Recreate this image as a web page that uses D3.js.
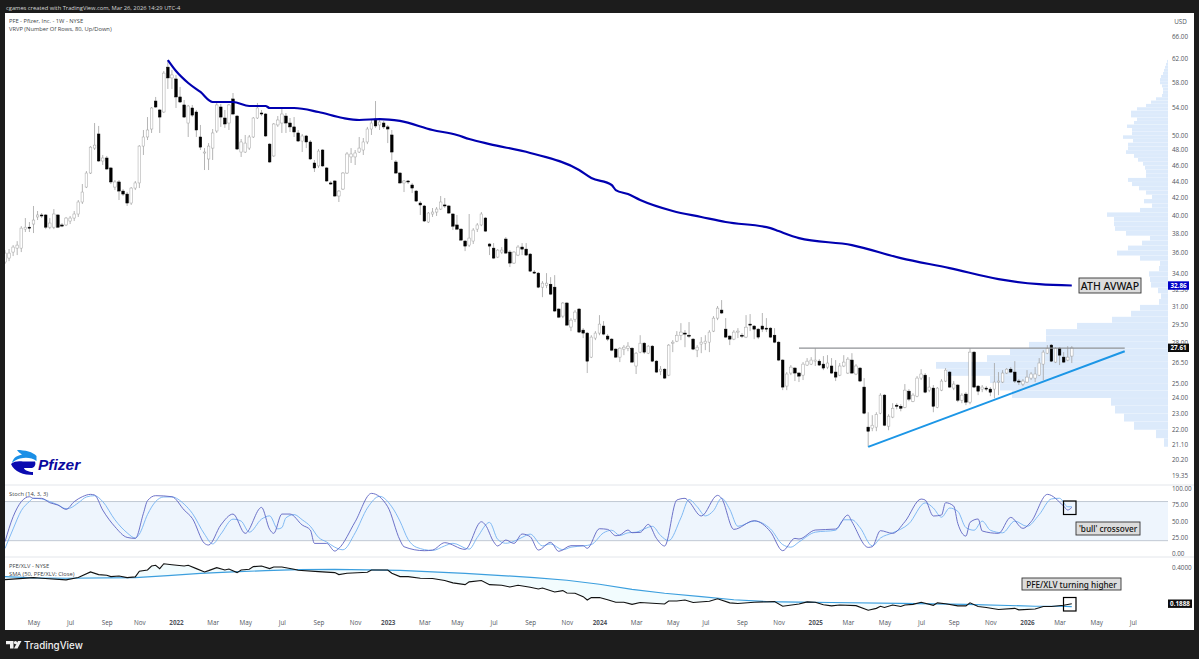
<!DOCTYPE html>
<html>
<head>
<meta charset="utf-8">
<title>PFE weekly</title>
<script src="https://cdn.jsdelivr.net/npm/d3@7"></script>
<style>
	html, body { margin: 0; padding: 0; background: #1c1c1c; }
	svg { display: block; }
	text { font-family: "Open Sans", "Noto Sans", sans-serif; }
	.axisText text { fill: #50545c; font-size: 6.3px; }
	.legend { fill: #3d3f46; font-size: 5.75px; }
	.note { fill: #111; font-family: "Noto Sans", sans-serif; font-weight: 500; text-anchor: middle; dominant-baseline: central; }
</style>
</head>
<body>
<script>
//weekly candles, first bar is week of Mar 15 2021, last is week of Mar 23 2026
var opens = [
	35.09,35.48,36.08,36.48,36.48,38.47,38.68,39.02,39.8,40.02,
	40.02,38.68,38.68,40.02,38.92,38.92,39.35,39.68,40.13,41.5,
	43.27,45.0,48.25,50.19,46.54,46.93,45.64,43.27,43.89,42.79,
	42.43,41.38,43.15,43.77,48.52,49.77,50.89,55.03,53.67,53.37,
	60.5,58.7,58.53,55.66,54.43,51.75,53.97,53.37,49.77,47.59,
	46.8,48.25,50.61,54.12,52.48,51.75,55.35,52.77,47.72,47.72,
	48.25,49.77,52.48,53.22,53.07,48.79,47.2,51.47,51.75,52.77,
	51.75,51.19,50.33,49.21,49.91,49.08,46.28,45.9,47.99,45.64,
	43.77,44.01,42.2,43.03,45.0,47.07,47.07,47.72,47.99,49.08,
	50.89,52.33,51.47,51.75,51.19,50.05,46.41,45.0,43.77,44.01,
	43.52,42.79,41.38,41.04,39.24,40.13,40.35,40.69,41.16,41.04,
	40.13,38.92,38.47,37.21,36.79,37.21,38.47,38.92,39.68,36.9,
	36.48,35.58,36.08,37.42,36.08,34.99,35.78,36.59,36.38,35.88,
	34.12,34.02,32.71,32.89,32.98,32.71,30.77,30.17,31.29,29.26,
	29.91,30.77,29.01,28.77,26.9,28.37,28.77,29.34,28.53,28.29,
	27.51,26.9,27.51,27.58,27.58,26.24,27.28,27.97,27.2,27.74,
	26.6,25.87,26.01,25.58,27.97,28.13,28.6,28.77,28.6,28.29,
	27.43,27.9,27.97,28.05,28.93,30.0,30.68,29.09,28.53,28.29,
	28.85,28.6,28.45,29.5,29.34,29.09,29.34,29.17,29.17,28.6,
	28.05,26.68,24.81,25.73,26.09,25.73,25.58,26.31,26.38,26.6,
	26.6,26.38,26.16,26.24,25.8,25.58,26.24,25.73,26.68,25.66,
	26.09,24.74,22.12,22.06,22.12,23,24.19,22.18,22.75,23.52,
	23.45,23.38,24.46,23.78,24.12,25.37,25.58,24.53,24.67,23.38,
	24.53,25.16,25.8,24.67,24.88,23.85,24.26,23.72,27.28,24.81,
	24.6,24.67,24.6,24.6,25.09,25.09,25.73,26.01,25.8,25.16,
	24.95,25.09,25.37,25.37,25.58,26.38,27.2,27.82,26.53,27.58,
	26.9,26.68,26.98
];
var highs = [
	36.28,36.38,36.79,37.2,38.79,39.68,39.24,41.04,40.47,40.24,
	40.13,39.68,40.69,40.13,39.13,39.8,39.91,40.47,41.73,43.64,
	45.25,48.52,51.75,51.33,47.33,47.2,45.77,44.13,44.13,43.03,
	42.67,43.27,44.01,48.65,50.75,52.62,54.12,55.66,53.82,59.84,
	61.71,60.02,59.19,57.24,55.19,54.43,54.43,53.67,51.47,48.25,
	48.93,50.89,54.73,54.58,53.67,54.58,56.28,52.91,49.49,50.05,
	50.05,52.62,54.73,53.67,53.22,48.93,51.75,52.77,53.97,53.22,
	52.48,52.62,50.75,50.19,50.05,49.35,46.67,48.12,48.12,45.77,
	44.01,44.13,42.91,45.13,47.72,48.25,47.99,49.77,49.63,51.19,
	52.19,55.03,52.48,52.05,51.47,50.75,46.67,45.13,44.13,44.13,
	43.77,42.91,41.61,41.16,40.35,40.81,40.92,42.2,41.97,41.16,
	40.24,40.02,38.58,37.31,40.13,38.58,39.13,40.35,39.8,37.0,
	37.0,36.38,36.59,37.63,36.28,36.18,36.79,37.0,37.0,35.98,
	34.31,34.12,33.27,34.02,33.64,33.83,30.85,31.38,31.38,30.0,
	30.68,30.85,29.17,28.85,28.6,28.93,30.25,29.75,28.69,28.37,
	27.58,27.66,27.82,28.05,27.66,27.28,28.6,28.05,27.82,27.82,
	26.68,26.24,26.09,27.9,28.21,28.93,29.58,29.01,29.67,28.37,
	27.82,28.45,28.6,29.01,30.17,31.03,31.55,30.0,28.6,29.01,
	29.17,28.77,30.25,30.34,29.42,29.17,30.43,30.0,29.25,29.17,
	28.13,26.75,25.8,26.31,26.16,25.8,26.53,26.83,26.9,27.58,
	26.75,26.98,27.05,26.83,26.68,26.46,27.05,26.9,27.2,26.38,
	26.16,25.37,23.06,22.87,23.06,24.32,24.26,22.93,23.65,23.65,
	23.58,24.95,24.6,24.32,25.51,26.01,25.73,25.44,24.88,24.74,
	25.3,26.09,25.87,25.16,24.95,24.32,24.39,27.58,27.35,24.88,
	24.88,24.81,24.74,26.46,25.8,25.94,26.09,26.16,26.6,25.3,
	25.3,25.94,25.8,26.16,26.83,27.43,27.82,27.9,27.66,27.66,
	27.28,27.74,27.74
];
var lows = [
	34.9,35.18,35.68,35.78,36.08,38.16,38.16,38.05,39.46,39.68,
	38.47,38.47,38.47,38.58,38.68,38.8,39.02,39.35,39.8,41.27,
	43.15,44.88,47.99,46.41,46.02,45.38,43.64,42.91,41.73,42.2,
	41.04,41.16,42.91,43.15,47.33,49.35,50.33,53.97,50.33,53.22,
	56.92,56.92,53.97,54.73,52.48,49.77,52.62,49.77,47.99,45.38,
	45.38,46.67,50.33,51.19,51.05,50.75,52.91,47.99,47.07,47.59,
	47.99,49.63,52.33,52.77,49.77,46.28,47.07,51.19,50.33,50.33,
	50.47,49.77,49.08,47.72,48.25,46.67,45.13,45.64,45.77,43.89,
	43.52,42.08,41.5,42.91,44.88,46.28,46.02,47.59,47.33,48.79,
	50.05,51.05,50.75,50.89,48.93,46.67,44.88,43.64,42.67,43.64,
	42.55,41.5,40.02,39.24,39.13,39.8,39.91,40.58,40.81,40.13,
	38.37,38.37,37.21,36.18,36.59,36.9,38.16,38.79,38.16,35.78,
	35.38,35.48,35.88,35.88,34.6,34.9,35.68,35.78,35.68,34.12,
	33.93,32.62,31.81,32.62,31.99,30.51,30.0,30.0,29.34,28.93,
	29.67,28.77,28.37,25.73,26.83,28.21,28.6,28.6,28.13,27.35,
	26.83,26.53,27.05,27.35,26.46,25.66,27.2,27.13,27.13,26.53,
	25.73,25.58,25.3,25.51,27.28,28.05,28.21,27.66,28.37,27.43,
	26.9,27.2,27.43,27.28,28.85,29.83,30.34,28.37,27.82,28.21,
	28.37,28.37,28.37,28.93,28.29,28.29,28.85,28.85,28.37,27.97,
	26.6,24.53,24.53,25.58,25.16,25.09,25.23,26.24,26.31,26.24,
	26.24,25.94,26.01,25.66,25.16,25.51,26.16,25.66,25.66,25.58,
	25.09,22.93,20.93,21.87,21.87,22.93,22.18,21.93,22.68,23.25,
	23.12,23.32,23.78,23.72,24.05,25.23,24.32,24.39,23.06,23.32,
	24.46,25.09,24.67,24.53,23.72,23.65,23.52,23.58,24.67,24.19,
	24.39,24.46,24.12,23.98,24.19,25.02,25.66,25.73,25.02,24.88,
	24.81,25.02,25.23,25.09,25.51,25.23,27.13,26.53,26.46,26.31,
	26.46,26.6,26.46
];
var closes = [
	35.98,35.98,36.59,36.79,38.58,38.68,38.58,39.46,40.02,39.91,
	38.68,39.13,40.13,38.68,38.8,39.68,39.68,40.13,41.5,42.67,
	45.0,48.38,48.65,46.54,46.93,45.51,43.89,43.89,42.79,42.43,
	41.38,43.15,43.77,48.52,49.77,50.75,53.97,54.12,52.62,59.5,
	58.7,59.19,55.66,54.88,52.62,54.27,52.91,50.75,48.38,47.72,
	48.52,50.33,54.43,52.62,51.61,54.43,53.07,48.12,49.08,48.93,
	49.77,52.48,53.97,53.07,49.91,46.41,51.61,52.19,53.07,51.75,
	51.19,50.47,49.21,49.91,49.08,46.8,45.64,47.85,45.9,44.01,
	43.64,42.2,42.79,45.0,47.46,47.46,47.59,48.25,49.08,50.89,
	51.75,51.33,51.9,51.19,50.89,47.72,45.0,43.77,44.01,43.89,
	43.15,41.61,41.16,39.35,40.24,40.35,40.69,41.5,41.04,40.24,
	38.79,38.47,37.31,36.69,37.52,38.37,38.92,40.13,38.26,36.69,
	35.48,36.28,36.28,35.98,34.99,36.08,36.59,36.38,35.78,34.21,
	34.02,32.71,33.08,33.08,32.08,30.6,30.08,31.29,29.42,29.83,
	30.51,28.85,28.77,26.6,28.45,28.77,29.5,28.69,28.29,27.43,
	26.9,27.58,27.66,27.74,26.53,27.2,27.97,27.28,27.74,26.6,
	25.8,26.01,25.37,27.82,28.05,28.6,28.85,28.69,28.53,27.51,
	27.66,28.05,28.13,28.85,30.0,30.85,30.43,28.45,28.29,28.85,
	28.93,28.53,29.25,29.42,29.09,28.45,29.09,29.09,28.45,28.05,
	26.68,24.74,25.66,26.16,25.73,25.51,26.38,26.6,26.68,26.68,
	26.31,26.09,26.46,25.73,25.44,26.24,26.53,26.75,25.73,26.24,
	25.16,23,21.87,22.24,22.93,24.19,22.24,22.81,23.32,23.45,
	23.32,24.53,23.92,24.19,25.37,25.66,24.39,24.74,23.45,24.67,
	25.16,25.94,24.74,24.95,23.85,24.19,23.72,27.28,24.74,24.46,
	24.74,24.6,24.39,25.09,25.16,25.73,26.01,25.8,25.16,25.09,
	25.16,25.44,25.66,25.66,26.46,27.28,27.58,26.6,27.58,27.05,
	26.53,26.9,27.61
];

//anchored vwap from the all time high. bar numbers count weeks from Jan 3 2022
var avwapBars = [-2,0,3,6,9,11,14,18,22,23,29,35,41,45,50,55,63,69,72,77,87,99,102,107,108,111,114,122,129,135,146,148,153,166,178,190,202,212,220];
var avwapValues = [61.71,59.85,57.88,56.44,54.88,54.88,54.88,54.27,54.27,53.97,53.97,53.37,52.48,52.19,52.33,52.05,50.75,50.05,49.49,48.79,47.59,45.38,44.38,43.52,42.91,42.43,41.73,40.47,39.8,39.24,38.58,38.26,37.52,36.79,35.48,34.5,33.45,32.98,32.86];

//volume profile, relative volume per row, bottom row first
var profileVolumes = [4,12,34,44,53,57,156,168,178,221,232,181,158,139,122,122,91,56,37,28,9,7,10,17,18,19,9,8,28,51,40,26,18,42,53,54,54,61,28,16,24,16,22,29,36,40,22,22,23,25,30,34,42,40,40,35,45,36,36,41,34,31,37,37,31,22,17,12,6,5,5,6,8,8,7,5,4,3,2,1];
var profileLow = 20.93;
var profileStep = 0.51;

//stochastic
var stochKBars = [-42,-40,-38,-36,-35,-33,-31,-29,-27,-25,-23,-21,-20,-18,-15,-12,-10,-8,-7,-5,-1,2,4,7,8,11,14,17,21,23,24,26,28,31,33,34,37,39,40,44,48,52,55,56,61,63,66,71,75,76,78,79,81,83,85,87,89,92,94,97,100,101,104,106,108,109,111,112,114,116,118,120,123,125,126,129,133,134,137,142,146,149,152,153,157,162,165,166,170,171,173,176,179,183,184,186,188,189,191,192,194,195,197,198,202,205,208,210,214,218,219,220];
var stochKValues = [18.4,56.7,79.8,87.4,84.9,84.9,78.2,74.6,68,79.8,87.4,91,90,67,41.4,25,23.5,61.9,81.3,89,87.4,67,54.2,15.8,13.3,44,60.8,31.2,71,37.3,31.2,60.8,60.8,44,36.3,15.8,15.8,4,8.2,49,92.5,72,21,10.7,4.6,5.6,16.9,6.6,49,44,18.4,11.8,21,15.8,30.2,26,5.6,17.4,3.6,12.3,12.3,8.2,38.3,37.3,27.6,28.6,36.3,32.2,32.7,45,23.5,11.8,82.3,84.9,79.8,57.8,89.5,84.9,37.3,50.6,33.7,4.6,23.5,22.5,36.3,37.8,59.3,49,9.7,10.7,35.3,31.2,49,83.8,82.3,57.8,59.3,78.2,73,46.5,27,48,53.2,34.8,31.2,55.7,38.9,49,91,73,67,71];
var stochDBars = [-42,-40,-38,-36,-35,-33,-31,-29,-27,-26,-24,-22,-20,-18,-15,-12,-10,-9,-7,-5,-3,-1,2,4,7,9,11,14,16,18,21,23,25,26,27,29,31,33,35,37,39,41,44,47,50,53,55,57,59,63,66,68,72,74,77,79,81,83,85,87,90,92,95,97,100,102,105,107,109,111,113,115,117,119,121,124,126,128,130,132,134,136,138,142,146,149,151,153,157,162,164,166,168,171,173,176,180,184,186,188,190,192,194,196,198,200,203,206,209,212,215,217,219,220];
var stochDValues = [8,38,66,80,85,84,80,75,69,70,78,87,89,80,52,32,24,30,60,80,87,87,76,62,30,15,30,53,50,33,53,58,38,40,55,60,52,42,25,18,10,6,32,70,88,72,50,22,10,5,12,16,7,25,48,22,16,19,25,30,12,15,6,10,12,14,32,36,28,32,33,38,42,28,20,55,83,72,58,66,85,68,42,50,38,14,10,18,33,36,52,52,40,12,24,32,46,78,70,56,70,65,40,36,50,36,32,50,42,60,84,85,72,72];

//PFE/XLV ratio and its 50 period sma
var ratioBars = [-42,-35,-33,-27,-24,-21,-19,-17,-16,-14,-12,-10,-9,-7,-6,-5,-4,-3,-1,2,3,5,7,8,10,12,13,15,16,18,19,21,23,24,26,29,30,35,39,40,42,47,48,52,53,55,57,60,63,66,68,71,72,75,77,80,82,84,87,89,90,93,95,96,98,100,101,102,104,106,108,110,112,114,120,121,123,125,127,131,133,136,138,142,147,149,153,155,157,159,161,163,167,170,172,173,174,176,178,179,181,183,186,187,189,192,194,195,197,199,202,206,207,211,213,215,218,220];
var ratioValues = [.3105,.3235,.3192,.3084,.3235,.3635,.344,.3393,.3302,.3347,.3235,.328,.3684,.3787,.411,.4166,.3892,.4306,.4222,.411,.4166,.3892,.3635,.3735,.3973,.3787,.3864,.3585,.3787,.3839,.4055,.411,.3892,.4028,.4028,.3839,.3761,.366,.3585,.344,.3536,.361,.3787,.3787,.3536,.3302,.3302,.3192,.317,.3043,.2903,.2798,.2961,.3043,.2798,.276,.2666,.276,.2648,.2558,.2612,.2404,.2472,.2356,.2342,.2184,.2036,.2142,.2142,.2049,.1947,.1947,.1862,.1935,.1874,.1997,.1997,.2036,.1935,.1985,.2089,.1922,.1898,.1947,.1972,.1792,.1874,.196,.1947,.185,.1804,.1839,.1815,.1652,.1715,.1792,.1747,.1839,.1781,.1839,.1862,.1947,.1827,.1922,.1886,.1804,.1804,.1922,.1781,.1747,.1673,.1715,.1662,.1694,.1781,.1781,.1827,.1888];
var smaBars = [-42,-35,-27,-10,-2,6,14,22,30,39,55,71,88,96,104,112,120,129,137,145,153,161,178,194,211,217,220];
var smaValues = [.3302,.3213,.3192,.3235,.3368,.3536,.3635,.3735,.3813,.3839,.3761,.3536,.3235,.3063,.2819,.2541,.2342,.2184,.2049,.1972,.1947,.1935,.1898,.1862,.1792,.1792,.1781];

//axis ticks
var priceTicks = [66,62,58,54,50,48,46,44,42,40,38,36,34,32.5,31,29.5,28,26.5,25,24,23,22,21.1,20.2,19.35];
var stochTicks = [100,75,50,25,0];
var timeTickDates = ["2021-05-03","2021-07-05","2021-09-06","2021-11-01","2022-01-03","2022-03-07","2022-05-02","2022-07-04","2022-09-05","2022-11-07","2023-01-02","2023-03-06","2023-05-01","2023-07-03","2023-09-04","2023-11-06","2024-01-01","2024-03-04","2024-05-06","2024-07-01","2024-09-02","2024-11-04","2025-01-06","2025-03-03","2025-05-05","2025-07-07","2025-09-01","2025-11-03","2026-01-05","2026-03-02","2026-05-04","2026-07-06"];
var timeTickLabels = ["May","Jul","Sep","Nov","2022","Mar","May","Jul","Sep","Nov","2023","Mar","May","Jul","Sep","Nov","2024","Mar","May","Jul","Sep","Nov","2025","Mar","May","Jul","Sep","Nov","2026","Mar","May","Jul"];

//begin script
setChart();

function setChart(){
	var width = 1199, height = 659,
		panelLeft = 5, panelRight = 1194, panelTop = 13, panelBottom = 630,
		plotRight = 1168;

	var svg = d3.select("body").append("svg")
		.attr("width", width)
		.attr("height", height);

	//dark frame with the white panel on it
	svg.append("rect").attr("width", width).attr("height", height).attr("fill", "#1c1c1c");
	svg.append("rect")
		.attr("x", panelLeft).attr("y", panelTop)
		.attr("width", panelRight - panelLeft).attr("height", panelBottom - panelTop)
		.attr("fill", "#fff");

	svg.append("clipPath").attr("id", "plotClip").append("rect")
		.attr("x", panelLeft).attr("y", panelTop)
		.attr("width", plotRight - panelLeft).attr("height", panelBottom - panelTop);

	//scales
	var parseDate = d3.utcParse("%Y-%m-%d");
	var jan2022 = parseDate("2022-01-03");
	var x = d3.scaleUtc()
		.domain([jan2022, parseDate("2026-01-05")])
		.range([176, 1027]);
	var xBar = function(bar){ return x(d3.utcMonday.offset(jan2022, bar)); };

	var priceY = d3.scaleLog().domain([66, 19.35]).range([36, 475]);
	var stochY = d3.scaleLinear().domain([0, 100]).range([553.7, 488.5]);
	var ratioY = d3.scaleLog().domain([0.4, 0.1888]).range([567.3, 603.7]);
	var profileX = d3.scaleLinear().domain([0, 232]).range([plotRight, plotRight - 232]);

	var plot = svg.append("g").attr("clip-path", "url(#plotClip)");

	setProfile(plot, priceY, profileX);
	setCandles(plot, xBar, priceY);
	setOverlays(plot, xBar, priceY);
	setStoch(plot, xBar, stochY, panelLeft, plotRight);
	setRatio(plot, xBar, ratioY);

	//pane separators
	[485, 557].forEach(function(y){
		svg.append("line")
			.attr("x1", panelLeft).attr("x2", panelRight)
			.attr("y1", y).attr("y2", y)
			.attr("stroke", "#dcdfe6").attr("stroke-width", 0.8);
	});

	setAxes(svg, x, parseDate, priceY, stochY, ratioY);
	setTags(svg, priceY, ratioY);
	setAnnotations(svg);
	setTexts(svg);
	setLogos(svg);
}

//volume profile rows behind the candles
function setProfile(plot, priceY, profileX){
	plot.selectAll(".profile")
		.data(profileVolumes)
		.enter()
		.append("rect")
		.attr("class", "profile")
		.attr("x", function(d){ return profileX(d); })
		.attr("width", function(d){ return profileX(0) - profileX(d); })
		.attr("y", function(d, i){ return priceY(profileLow + (i + 1) * profileStep); })
		.attr("height", function(d, i){
			return priceY(profileLow + i * profileStep) - priceY(profileLow + (i + 1) * profileStep) - 0.15;
		})
		.attr("fill", "#dceafb");
}

function setCandles(plot, xBar, priceY){
	var firstBar = -42;
	var bars = d3.range(closes.length);

	plot.selectAll(".wick")
		.data(bars)
		.enter()
		.append("line")
		.attr("class", "wick")
		.attr("x1", function(i){ return xBar(firstBar + i); })
		.attr("x2", function(i){ return xBar(firstBar + i); })
		.attr("y1", function(i){ return priceY(highs[i]); })
		.attr("y2", function(i){ return priceY(lows[i]); })
		.attr("stroke", "#a2a2a2")
		.attr("stroke-width", 0.8);

	plot.selectAll(".body")
		.data(bars)
		.enter()
		.append("rect")
		.attr("class", "body")
		.attr("x", function(i){ return xBar(firstBar + i) - 1.3; })
		.attr("width", 2.6)
		.attr("y", function(i){ return priceY(Math.max(opens[i], closes[i])); })
		.attr("height", function(i){
			return Math.max(1, Math.abs(priceY(opens[i]) - priceY(closes[i])));
		})
		.attr("fill", function(i){ return closes[i] >= opens[i] ? "#fff" : "#000"; })
		.attr("stroke", function(i){ return closes[i] >= opens[i] ? "#a2a2a2" : "#000"; })
		.attr("stroke-width", 0.5);
}

//avwap and the two drawn lines of the triangle
function setOverlays(plot, xBar, priceY){
	var avwapLine = d3.line()
		.curve(d3.curveMonotoneX)
		.x(function(d, i){ return xBar(avwapBars[i]); })
		.y(function(d){ return priceY(d); });

	plot.append("path")
		.attr("d", avwapLine(avwapValues))
		.attr("fill", "none")
		.attr("stroke", "#0000b0")
		.attr("stroke-width", 2.2);

	plot.append("line")
		.attr("x1", xBar(153.7)).attr("x2", xBar(233))
		.attr("y1", priceY(27.58)).attr("y2", priceY(27.58))
		.attr("stroke", "#8f9296").attr("stroke-width", 1.3);

	plot.append("line")
		.attr("x1", xBar(170)).attr("x2", xBar(233))
		.attr("y1", priceY(20.93)).attr("y2", priceY(27.35))
		.attr("stroke", "#1c96e6").attr("stroke-width", 2);
}

function setStoch(plot, xBar, stochY, left, right){
	plot.append("rect")
		.attr("x", left).attr("width", right - left)
		.attr("y", stochY(80)).attr("height", stochY(20) - stochY(80))
		.attr("fill", "#eef5fd");

	[80, 20].forEach(function(level){
		plot.append("line")
			.attr("x1", left).attr("x2", right)
			.attr("y1", stochY(level)).attr("y2", stochY(level))
			.attr("stroke", "#b4bcc8").attr("stroke-width", 0.8);
	});

	var line = d3.line().curve(d3.curveMonotoneX);

	plot.append("path")
		.attr("d", line(stochDValues.map(function(d, i){ return [xBar(stochDBars[i]), stochY(d)]; })))
		.attr("fill", "none").attr("stroke", "#74b2f2").attr("stroke-width", 0.9);

	plot.append("path")
		.attr("d", line(stochKValues.map(function(d, i){ return [xBar(stochKBars[i]), stochY(d)]; })))
		.attr("fill", "none").attr("stroke", "#5d63c2").attr("stroke-width", 0.9);
}

function setRatio(plot, xBar, ratioY){
	var ratioPoints = ratioValues.map(function(d, i){ return [xBar(ratioBars[i]), ratioY(d)]; });
	var smaPoints = smaValues.map(function(d, i){ return [xBar(smaBars[i]), ratioY(d)]; });
	var line = d3.line();

	//shade between ratio and its sma
	plot.append("path")
		.attr("d", line(smaPoints.concat(ratioPoints.slice().reverse())) + "Z")
		.attr("fill", "#e6f9fe")
		.attr("opacity", 0.5);

	plot.append("path")
		.attr("d", line(smaPoints))
		.attr("fill", "none").attr("stroke", "#3c9fde").attr("stroke-width", 1.2);

	plot.append("path")
		.attr("d", line(ratioPoints))
		.attr("fill", "none").attr("stroke", "#111").attr("stroke-width", 1.1);
}

function setAxes(svg, x, parseDate, priceY, stochY, ratioY){
	var priceAxis = d3.axisRight(priceY)
		.tickValues(priceTicks)
		.tickSize(0).tickPadding(0)
		.tickFormat(d3.format(".2f"));
	svg.append("g").attr("class", "axisText")
		.attr("transform", "translate(1172,0)")
		.call(priceAxis)
		.call(function(g){ g.select(".domain").remove(); });

	var stochAxis = d3.axisRight(stochY)
		.tickValues(stochTicks)
		.tickSize(0).tickPadding(0)
		.tickFormat(d3.format(".2f"));
	svg.append("g").attr("class", "axisText")
		.attr("transform", "translate(1172,0)")
		.call(stochAxis)
		.call(function(g){ g.select(".domain").remove(); });

	var ratioAxis = d3.axisRight(ratioY)
		.tickValues([0.4])
		.tickSize(0).tickPadding(0)
		.tickFormat(d3.format(".4f"));
	svg.append("g").attr("class", "axisText")
		.attr("transform", "translate(1172,0)")
		.call(ratioAxis)
		.call(function(g){ g.select(".domain").remove(); });

	var timeAxis = d3.axisBottom(x)
		.tickValues(timeTickDates.map(parseDate))
		.tickSize(0).tickPadding(0)
		.tickFormat(function(d, i){ return timeTickLabels[i]; });
	svg.append("g").attr("class", "axisText")
		.attr("transform", "translate(0,621)")
		.call(timeAxis)
		.call(function(g){ g.select(".domain").remove(); })
		.selectAll("text")
		.style("font-weight", function(d, i){ return timeTickLabels[i].length == 4 ? 700 : 400; });

	svg.append("text").attr("class", "legend")
		.attr("x", 1180.5).attr("y", 23.5)
		.attr("text-anchor", "middle")
		.style("fill", "#50545c")
		.style("font-size", "6.3px")
		.text("USD");
}

//coloured last value tags on the right
function setTags(svg, priceY, ratioY){
	var tags = [
		{value: 32.86, y: priceY(32.86), fill: "#0000c8", text: "32.86", w: 21},
		{value: 27.61, y: priceY(27.61), fill: "#0d0d0d", text: "27.61", w: 21},
		{value: 0.1888, y: ratioY(0.1888), fill: "#0d0d0d", text: "0.1888", w: 24}
	];
	tags.forEach(function(t){
		svg.append("rect")
			.attr("x", 1168).attr("y", t.y - 4.2)
			.attr("width", t.w).attr("height", 8.4)
			.attr("fill", t.fill);
		svg.append("text")
			.attr("x", 1168 + t.w / 2).attr("y", t.y + 2.2)
			.attr("text-anchor", "middle")
			.attr("fill", "#fff")
			.style("font-size", "6.3px").style("font-weight", 700)
			.text(t.text);
	});
}

function setAnnotations(svg){
	var notes = [
		{x: 1079, y: 278, w: 62, h: 15, size: 10.5, text: "ATH AVWAP"},
		{x: 1076, y: 522, w: 64, h: 13, size: 8.2, text: "'bull' crossover"},
		{x: 1022, y: 578, w: 99, h: 12, size: 8.2, text: "PFE/XLV turning higher"}
	];
	notes.forEach(function(n){
		svg.append("rect")
			.attr("x", n.x).attr("y", n.y)
			.attr("width", n.w).attr("height", n.h)
			.attr("fill", "#dcdcdc")
			.attr("stroke", "#333").attr("stroke-width", 0.9);
		svg.append("text").attr("class", "note")
			.attr("x", n.x + n.w / 2).attr("y", n.y + n.h / 2)
			.style("font-size", n.size + "px")
			.text(n.text);
	});

	//boxes around the last bars in the lower panes
	[[1063.5, 501], [1063.5, 597.5]].forEach(function(p){
		svg.append("rect")
			.attr("x", p[0]).attr("y", p[1])
			.attr("width", 12.5).attr("height", 13.5)
			.attr("fill", "none")
			.attr("stroke", "#000").attr("stroke-width", 1.2);
	});
}

function setTexts(svg){
	svg.append("text")
		.attr("x", 6).attr("y", 9.5)
		.attr("fill", "#d8d8d8")
		.style("font-size", "5.75px")
		.text("cgames created with TradingView.com, Mar 26, 2026 14:29 UTC-4");

	var legends = [
		[22.7, "PFE - Pfizer, Inc. - 1W - NYSE"],
		[31, "VRVP (Number Of Rows, 80, Up/Down)"],
		[495.5, "Stoch (14, 3, 3)"],
		[568, "PFE/XLV - NYSE"],
		[576.3, "SMA (50, PFE/XLV; Close)"]
	];
	legends.forEach(function(l){
		svg.append("text").attr("class", "legend")
			.attr("x", 9).attr("y", l[0])
			.text(l[1]);
	});
}

function setLogos(svg){
	//pfizer ribbons
	svg.append("path")
		.attr("d", "M17,450 C25,450 33,452 36.5,456 L36.5,461 C32,458 27,457 20,458.5 C17,459 14,461 12,463 C13,459 15,456 22,454.5 C20,453 18,452 17,450 Z")
		.attr("fill", "#1a8fe6");
	svg.append("path")
		.attr("d", "M11,464 C14,461 19,461 23,461.5 L35,461.5 C36,464 35,467 32,468 L24,468 C24,470 29,472 33,472 L33,475 C24,475 14,472 11,464 Z")
		.attr("fill", "#0a0ab0");
	svg.append("text")
		.attr("x", 38).attr("y", 470)
		.attr("fill", "#0a0a9e")
		.style("font-family", "'Liberation Sans', sans-serif")
		.style("font-size", "15.5px").style("font-weight", 700).style("font-style", "italic")
		.text("Pfizer");

	//tradingview mark and name at the bottom
	svg.append("path")
		.attr("d", "M6,641 H13.5 V648.5 H10 V644.3 H6 Z M15.5,641 A1.6,1.6 0 1 1 15.49,641 M18,641 H21.5 L17.5,648.5 H14 Z")
		.attr("fill", "#f0f0f0");
	svg.append("text")
		.attr("x", 24).attr("y", 648.5)
		.attr("fill", "#f0f0f0")
		.style("font-family", "Inter, sans-serif")
		.style("font-size", "9.8px").style("font-weight", 500)
		.text("TradingView");
}
</script>
</body>
</html>
